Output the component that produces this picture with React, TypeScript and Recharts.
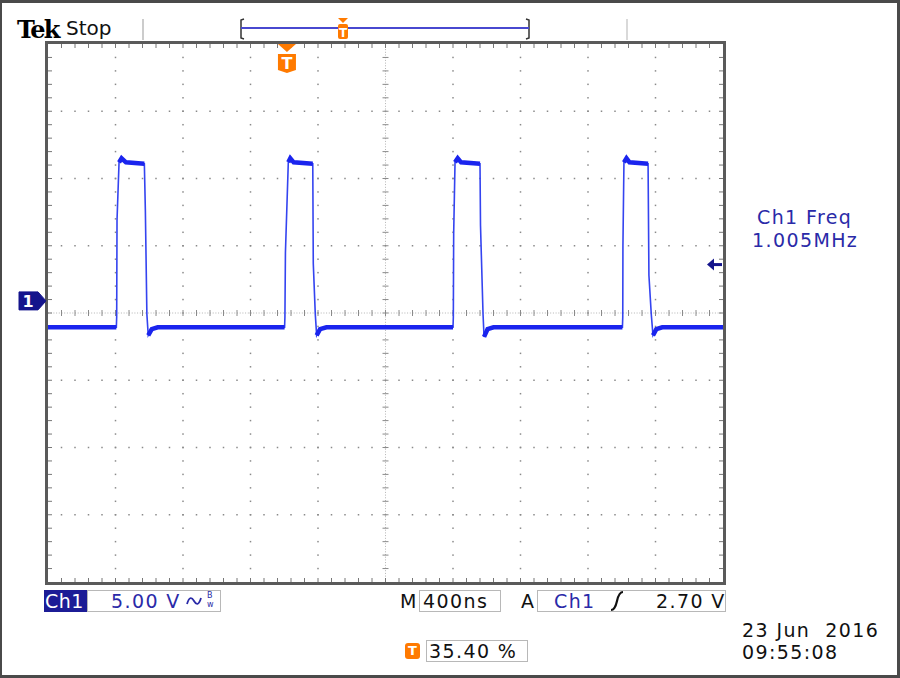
import React from 'react';
import { LineChart, Line, XAxis, YAxis, ReferenceLine, ReferenceArea } from 'recharts';

// Ch1 capture: time in ns over the 10 screen divisions (400 ns/div),
// volts measured from the Ch1 ground marker (5 V/div, AC coupled)
const traceTime = [
    0, 405, 407, 409, 421, 436, 462, 571, 577, 586, 594, 615, 650,
    1402, 1404, 1407, 1424, 1436, 1456, 1569, 1572, 1584, 1592, 1612, 1650,
    2400, 2402, 2404, 2412, 2428, 2448, 2560, 2563, 2578, 2584, 2605, 2640,
    3404, 3406, 3407, 3413, 3428, 3446, 3556, 3561, 3575, 3585, 3605, 3640, 4000,
];
const traceVolts = [
    -1.96, -1.96, -1.2, 6.0, 10.3, 10.6, 10.3, 10.2, 6.7, -1.0, -2.56, -2.1, -1.96,
    -1.96, -1.2, 3.6, 10.3, 10.6, 10.3, 10.2, 2.8, -1.0, -2.56, -2.1, -1.96,
    -1.96, -1.2, 5.0, 10.3, 10.6, 10.3, 10.2, 5.6, -1.0, -2.68, -2.1, -1.96,
    -1.96, -1.2, 4.1, 10.3, 10.6, 10.3, 10.2, 1.9, -1.0, -2.56, -2.1, -1.96, -1.96,
];

// screen setup
const timeDomain: [number, number] = [0, 4000];
const voltDomain: [number, number] = [-20.9, 19.1];
const timeGrid = [400, 800, 1200, 1600, 2400, 2800, 3200, 3600];
const timeCenter = 2000;
const voltGrid = [-15.9, -10.9, -5.9, 4.1, 9.1, 14.1];
const voltCenter = -0.9;
const triggerTime = 1416;
const triggerLevel = 2.7;

// thin trace plus a thick band on the flat (noisy) parts
const data = traceTime.map((t, i) => {
    const v = traceVolts[i];
    return { t, v, band: v < -1.5 || v > 9.5 ? v : null };
});

const BLUE = '#3444f0';
const NAVY = '#14148c';
const ORANGE = '#ff7a00';
const TXT_BLUE = '#2a2aa8';

const dottedLine = (steps: number) => (p: any) => {
    const { x1, y1, x2, y2 } = p;
    if (x1 == null) return <g />;
    const out = [];
    for (let i = 1; i < steps; i++) {
        const x = x1 + ((x2 - x1) * i) / steps;
        const y = y1 + ((y2 - y1) * i) / steps;
        out.push(<rect key={i} x={x - 0.75} y={y - 0.75} width={1.5} height={1.5} fill="#8a8a8a" />);
    }
    return <g>{out}</g>;
};

const centerLine = (steps: number, vertical: boolean) => (p: any) => {
    const { x1, y1, x2, y2 } = p;
    if (x1 == null) return <g />;
    const ticks = [];
    for (let i = 1; i < steps; i++) {
        const x = x1 + ((x2 - x1) * i) / steps;
        const y = y1 + ((y2 - y1) * i) / steps;
        ticks.push(
            vertical
                ? <line key={i} x1={x - 3} x2={x + 3} y1={y} y2={y} />
                : <line key={i} x1={x} x2={x} y1={y - 3} y2={y + 3} />
        );
    }
    return (
        <g stroke="#8a8a8a" strokeWidth={1}>
            <line x1={x1} y1={y1} x2={x2} y2={y2} stroke="#b4b4b4" strokeDasharray="1 1.7" />
            {ticks}
        </g>
    );
};

const edgeTicks = (steps: number, dx: number, dy: number) => (p: any) => {
    const { x1, y1, x2, y2 } = p;
    if (x1 == null) return <g />;
    const ticks = [];
    for (let i = 1; i < steps; i++) {
        const x = x1 + ((x2 - x1) * i) / steps;
        const y = y1 + ((y2 - y1) * i) / steps;
        ticks.push(<line key={i} x1={x} y1={y} x2={x + dx * 4} y2={y + dy * 4} />);
    }
    return <g stroke="#777" strokeWidth={1}>{ticks}</g>;
};

const Frame = (p: any) => (
    <rect x={p.x - 1.5} y={p.y - 1.5} width={p.width + 3} height={p.height + 3}
        fill="none" stroke="#5a5a5a" strokeWidth={3} />
);

const GroundMarker = (p: any) => {
    const { x1, x2, y1 } = p;
    if (x1 == null) return <g />;
    const left = Math.min(x1, x2);
    const y = y1;
    return (
        <g>
            <path
                d={`M${left - 29} ${y - 9} L${left - 10} ${y - 9} L${left - 2} ${y} L${left - 10} ${y + 9} L${left - 29} ${y + 9} Z`}
                fill={NAVY} stroke={NAVY} strokeWidth={1} strokeLinejoin="round"
            />
            <text x={left - 20} y={y + 6} textAnchor="middle" fill="#fff"
                fontFamily="DejaVu Sans" fontWeight="bold" fontSize={16}>1</text>
        </g>
    );
};

const LevelArrow = (p: any) => {
    const { x1, x2, y1 } = p;
    if (x1 == null) return <g />;
    const right = Math.max(x1, x2);
    const y = y1;
    return (
        <g fill={NAVY}>
            <path d={`M${right - 16} ${y} L${right - 9} ${y - 6} L${right - 9} ${y + 6} Z`} />
            <rect x={right - 10} y={y - 1.5} width={9} height={3} />
        </g>
    );
};

const TriggerMarker = (p: any) => {
    const { x1, y1, y2 } = p;
    if (x1 == null) return <g />;
    const top = Math.min(y1, y2);
    const x = x1;
    return (
        <g>
            <path d={`M${x - 9} ${top} L${x + 9} ${top} L${x} ${top + 8} Z`} fill={ORANGE} />
            <path
                d={`M${x - 9} ${top + 10} L${x + 9} ${top + 10} L${x + 9} ${top + 26} L${x} ${top + 29} L${x - 9} ${top + 26} Z`}
                fill={ORANGE}
            />
            <text x={x} y={top + 25} textAnchor="middle" fill="#fff"
                fontFamily="DejaVu Sans" fontWeight="bold" fontSize={16}>T</text>
        </g>
    );
};

const readout: React.CSSProperties = {
    position: 'absolute',
    fontFamily: 'DejaVu Sans',
    fontSize: 19,
    letterSpacing: 1.4,
    lineHeight: '22px',
    whiteSpace: 'pre',
};

const box = (left: number, top: number, width: number): React.CSSProperties => ({
    position: 'absolute', left, top, width, height: 22,
    border: '1px solid #b8b8b8', boxSizing: 'border-box',
});

export default function App() {
    return (
        <div style={{ position: 'absolute', left: 0, top: 0, width: 900, height: 678, background: '#fff', overflow: 'hidden' }}>
            <LineChart width={900} height={678} data={data}
                margin={{ top: 44, left: 48, right: 177, bottom: 96 }}>
                <XAxis type="number" dataKey="t" domain={timeDomain} allowDataOverflow hide />
                <YAxis type="number" domain={voltDomain} allowDataOverflow hide />

                {timeGrid.map((t) => (
                    <ReferenceLine key={'t' + t} x={t} shape={dottedLine(40)} />
                ))}
                {voltGrid.map((v) => (
                    <ReferenceLine key={'v' + v} y={v} shape={dottedLine(50)} />
                ))}
                <ReferenceLine x={timeCenter} shape={centerLine(40, true)} />
                <ReferenceLine y={voltCenter} shape={centerLine(50, false)} />
                <ReferenceLine x={timeDomain[0]} shape={edgeTicks(40, 1, 0)} />
                <ReferenceLine x={timeDomain[1]} shape={edgeTicks(40, -1, 0)} />
                <ReferenceLine y={voltDomain[1]} shape={edgeTicks(50, 0, 1)} />
                <ReferenceLine y={voltDomain[0]} shape={edgeTicks(50, 0, -1)} />
                <ReferenceArea x1={timeDomain[0]} x2={timeDomain[1]} y1={voltDomain[0]} y2={voltDomain[1]}
                    shape={Frame} />

                <Line type="linear" dataKey="v" stroke={BLUE} strokeWidth={1.6} dot={false}
                    isAnimationActive={false} />
                <Line type="linear" dataKey="band" stroke="#1a24ee" strokeWidth={4.5} dot={false}
                    connectNulls={false} isAnimationActive={false} />

                <ReferenceLine y={0} shape={GroundMarker} />
                <ReferenceLine y={triggerLevel} shape={LevelArrow} />
                <ReferenceLine x={triggerTime} shape={TriggerMarker} />
            </LineChart>

            {/* header */}
            <svg width={900} height={678} style={{ position: 'absolute', left: 0, top: 0, pointerEvents: 'none' }}>
                <line x1={143} y1={19} x2={143} y2={40} stroke="#999" strokeWidth={1} />
                <line x1={627} y1={19} x2={627} y2={40} stroke="#ccc" strokeWidth={1.5} />
                <path d="M244 19 L241 20 L241 38 L244 39" fill="none" stroke="#333" strokeWidth={1.5} />
                <path d="M526 19 L529 20 L529 38 L526 39" fill="none" stroke="#333" strokeWidth={1.5} />
                <line x1={241} y1={28} x2={529} y2={28} stroke="#4848d0" strokeWidth={2} />
                <path d="M338 18 L348 18 L343 23 Z" fill={ORANGE} />
                <rect x={338} y={24} width={10} height={15} rx={2} fill={ORANGE} />
                <text x={343} y={37} textAnchor="middle" fill="#fff" fontFamily="DejaVu Sans" fontWeight="bold" fontSize={12}>T</text>
                {/* rising slope symbol */}
                <path d="M611 610 Q615 610 617 601 Q619 592 623 592" fill="none" stroke="#111" strokeWidth={2.2} />
                {/* AC coupling / bandwidth symbol */}
                <path d="M187 604 Q190 594 194 601 Q198 608 201 598" fill="none" stroke={TXT_BLUE} strokeWidth={1.8} />
            </svg>

            <div style={{ position: 'absolute', left: 17, top: 15, fontFamily: 'DejaVu Serif', fontWeight: 'bold', fontSize: 24, letterSpacing: -1.8 }}>Tek</div>
            <div style={{ position: 'absolute', left: 66, top: 16, fontFamily: 'DejaVu Sans', fontSize: 20, color: '#111' }}>Stop</div>

            <div style={{ ...readout, left: 757, top: 206, color: TXT_BLUE }}>Ch1 Freq</div>
            <div style={{ ...readout, left: 752, top: 229, color: TXT_BLUE }}>1.005MHz</div>

            {/* bottom readouts */}
            <div style={{ position: 'absolute', left: 44, top: 590, width: 43, height: 22, background: '#1c1c96' }} />
            <div style={{ ...readout, left: 45, top: 590, color: '#fff', letterSpacing: 0.5 }}>Ch1</div>
            <div style={box(87, 590, 134)} />
            <div style={{ ...readout, left: 111, top: 590, color: TXT_BLUE }}>5.00 V</div>
            <div style={{ position: 'absolute', left: 207, top: 592, fontFamily: 'DejaVu Sans', fontSize: 8, color: TXT_BLUE, lineHeight: '8px' }}>B</div>
            <div style={{ position: 'absolute', left: 207, top: 601, fontFamily: 'DejaVu Sans', fontSize: 8, color: TXT_BLUE, lineHeight: '8px' }}>w</div>

            <div style={{ ...readout, left: 400, top: 590, color: '#111' }}>M</div>
            <div style={box(419, 590, 82)} />
            <div style={{ ...readout, left: 423, top: 590, color: '#111' }}>400ns</div>

            <div style={{ ...readout, left: 521, top: 590, color: '#111' }}>A</div>
            <div style={box(537, 590, 189)} />
            <div style={{ ...readout, left: 554, top: 590, color: TXT_BLUE }}>Ch1</div>
            <div style={{ ...readout, left: 656, top: 590, color: '#111' }}>2.70 V</div>

            <div style={{ position: 'absolute', left: 405, top: 643, width: 15, height: 16, background: ORANGE, borderRadius: 3 }} />
            <div style={{ position: 'absolute', left: 405, top: 643, width: 15, textAlign: 'center', fontFamily: 'DejaVu Sans', fontWeight: 'bold', fontSize: 13, color: '#fff', lineHeight: '16px' }}>T</div>
            <div style={box(426, 640, 102)} />
            <div style={{ ...readout, left: 429, top: 640, color: '#111' }}>35.40 %</div>

            <div style={{ ...readout, left: 742, top: 619, color: '#111' }}>23 Jun  2016</div>
            <div style={{ ...readout, left: 742, top: 641, color: '#111' }}>09:55:08</div>

            <div style={{ position: 'absolute', left: 0, top: 0, width: 900, height: 678, border: '3px solid #4a4a4a', borderLeftWidth: 2, boxSizing: 'border-box', pointerEvents: 'none' }} />
        </div>
    );
}
